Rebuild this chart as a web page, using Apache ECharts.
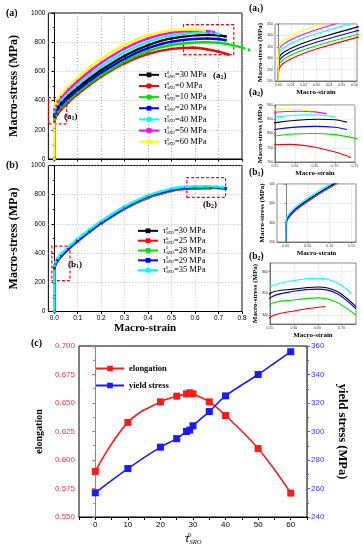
<!DOCTYPE html>
<html><head><meta charset="utf-8">
<script src="https://cdn.jsdelivr.net/npm/echarts@6/dist/echarts.min.js"></script>
<style>html,body{margin:0;padding:0;background:#fff}#c{width:363px;height:550px}</style>
</head><body><div id="c"></div>
<script>
// ---------- DATA ----------
// panel (a): tau0_SRO values (legend order) and colours
const tauA = ['30','0','10','20','40','50','60'];
const colorsA = ['#000000','#ff0000','#00e000','#0000ff','#00ffff','#ff00ff','#ffff00'];
// stress-strain curves [strain, stress MPa]
const stressA30 = [[0,0],[0,100],[0,200],[0.001,304],[0.005,328],[0.015,356],[0.03,385],[0.06,433],[0.1,488],[0.15,551],[0.2,609],[0.3,707],[0.4,780],[0.5,826],[0.658,850],[0.7,848],[0.73,840]];
const stressA0  = [[0,0],[0,100],[0,200],[0.001,257],[0.005,281],[0.015,310],[0.03,340],[0.06,388],[0.1,444],[0.15,507],[0.2,564],[0.3,656],[0.4,720],[0.5,754],[0.59,762],[0.65,752],[0.7,735],[0.74,716]];
const stressA10 = [[0,0],[0,100],[0,200],[0.001,274],[0.005,298],[0.015,326],[0.03,355],[0.06,401],[0.1,456],[0.15,518],[0.2,574],[0.3,669],[0.4,739],[0.5,781],[0.64,800],[0.7,796],[0.76,780],[0.83,748]];
const stressA20 = [[0,0],[0,100],[0,200],[0.001,289],[0.005,313],[0.015,341],[0.03,370],[0.06,417],[0.1,472],[0.15,534],[0.2,591],[0.3,687],[0.4,759],[0.5,803],[0.651,825],[0.7,822],[0.73,814]];
const stressA40 = [[0,0],[0,100],[0,200],[0.001,325],[0.005,349],[0.015,378],[0.03,407],[0.06,456],[0.1,512],[0.15,576],[0.2,634],[0.3,732],[0.4,804],[0.5,847],[0.639,866],[0.67,864],[0.7,858]];
const stressA50 = [[0,0],[0,100],[0,200],[0.001,340],[0.005,365],[0.015,394],[0.03,425],[0.06,475],[0.1,533],[0.15,599],[0.2,659],[0.3,757],[0.4,826],[0.5,866],[0.61,878],[0.65,876],[0.68,869]];
const stressA60 = [[0,0],[0,100],[0,200],[0.001,356],[0.005,381],[0.015,411],[0.03,443],[0.06,496],[0.1,557],[0.15,625],[0.2,686],[0.3,783],[0.4,849],[0.5,881],[0.571,886],[0.61,884],[0.64,879]];
const curvesA = [stressA30, stressA0, stressA10, stressA20, stressA40, stressA50, stressA60];

// panel (b)
const tauB = ['30','25','28','29','35'];
const colorsB = ['#000000','#ff0000','#00e000','#0000ff','#00ffff'];
const stressB30 = [[0,0],[0,100],[0,200],[0.001,304],[0.005,328],[0.015,356],[0.03,386],[0.06,433],[0.1,489],[0.15,552],[0.2,611],[0.3,712],[0.4,790],[0.5,835],[0.55,850],[0.6,852],[0.65,853],[0.69,851],[0.73,844]];
const stressB25 = [[0,0],[0,100],[0,200],[0.001,295],[0.005,319],[0.015,347],[0.03,377],[0.06,424],[0.1,480],[0.15,544],[0.2,602],[0.3,702],[0.4,778],[0.5,826],[0.55,839],[0.6,842],[0.665,844]];
const stressB28 = [[0,0],[0,100],[0,200],[0.001,300],[0.005,324],[0.015,352],[0.03,382],[0.06,429],[0.1,485],[0.15,548],[0.2,606],[0.3,705],[0.4,783],[0.5,830],[0.55,845],[0.6,847],[0.65,848],[0.69,846],[0.73,840]];
const stressB29 = [[0,0],[0,100],[0,200],[0.001,301],[0.005,325],[0.015,353],[0.03,383],[0.06,431],[0.1,487],[0.15,550],[0.2,609],[0.3,710],[0.4,788],[0.5,833],[0.55,848],[0.6,851],[0.65,852],[0.69,850],[0.73,843]];
const stressB35 = [[0,0],[0,100],[0,200],[0.001,314],[0.005,338],[0.015,366],[0.03,396],[0.06,443],[0.1,499],[0.15,562],[0.2,620],[0.3,720],[0.4,796],[0.5,842],[0.55,853],[0.6,856],[0.65,857],[0.69,855],[0.72,850]];
const curvesB = [stressB30, stressB25, stressB28, stressB29, stressB35];

// panel (c)
const tauC = [0,10,20,25,28,29,30,35,40,50,60];
const elongation = [0.590,0.633,0.651,0.656,0.658,0.659,0.658,0.651,0.639,0.610,0.571];
const yieldStress = [257,274,289,295,300,301,304,314,325,340,356];

// tick values
const xTicksMain = [0,0.1,0.2,0.3,0.4,0.5,0.6,0.7,0.8];
const xTicksA1 = [0,0.01,0.02,0.03,0.04,0.05,0.06];
const xTicksA2 = [0.55,0.6,0.65,0.7,0.75];
const xTicksB1 = [0,0.05,0.1,0.15];
const xTicksB2 = [0.55,0.6,0.65,0.7];
const yTicksB2 = [840,850,860];

// zoom boxes [[strain1,stress1],[strain2,stress2]]
const boxA1 = [[-0.024,240],[0.053,420]];
const boxA2 = [[0.551,715],[0.765,920]];
const boxB1 = [[-0.01,212],[0.067,448]];
const boxB2 = [[0.565,781],[0.73,917]];

// ---------- CHART ----------
const SERIF = '"Liberation Serif", "Times New Roman", serif';
const SANS = '"Liberation Sans", Arial, sans-serif';
const chart = echarts.init(document.getElementById('c'), null, {renderer:'canvas'});

const tauRich = (fs) => ({
  t:{fontFamily:SERIF, fontStyle:'italic', fontSize:fs, color:'#000'},
  sup:{fontFamily:SERIF, fontSize:fs*0.55, width:0.1, padding:[0,0,fs*0.55,0], color:'#000'},
  sub:{fontFamily:SERIF, fontStyle:'italic', fontSize:fs*0.5, padding:[fs*0.45,0,0,0], color:'#000'},
  n:{fontFamily:SERIF, fontSize:fs, color:'#000'}
});
const legendFmt = name => '{t|τ}{sup|0}{sub|SRO}{n|=' + name.slice(1) + ' MPa}';

const mainGrid = (top) => ({left:43, top:top, width:199, height:146, show:true, borderColor:'#000', borderWidth:1, backgroundColor:'transparent'});
const insetGrid = (l,t,w,h) => ({left:l, top:t, width:w, height:h, show:true, borderColor:'#333', borderWidth:0.6, backgroundColor:'transparent'});

const dotted = {show:true, lineStyle:{color:'#aaa', type:[1,2], width:0.8}};
const insetSplit = {show:true, lineStyle:{color:'#ddd', width:0.5}};

function mainX(gi, showLabel){
  return {gridIndex:gi, type:'value', min:-0.025, max:0.8,
    axisLine:{lineStyle:{color:'#000', width:1}},
    axisTick:{show:true, length:2.5, customValues:xTicksMain, lineStyle:{color:'#000'}},
    axisLabel:{show:showLabel, customValues:xTicksMain, fontSize:6.5, fontFamily:SANS, color:'#000', margin:3, formatter:v=>v.toFixed(1)},
    splitLine:dotted,
    name: showLabel ? 'Macro-strain' : '', nameLocation:'middle', nameGap:10,
    nameTextStyle:{fontFamily:SERIF, fontWeight:'bold', fontSize:11, color:'#000'}};
}
function mainY(gi){
  return {gridIndex:gi, type:'value', min:0, max:1000, interval:200,
    axisLine:{show:true, lineStyle:{color:'#000', width:1}},
    axisTick:{show:true, length:2.5, lineStyle:{color:'#000'}},
    minorTick:{show:true, splitNumber:2, length:1.5, lineStyle:{color:'#000'}},
    axisLabel:{fontSize:6.5, fontFamily:SANS, color:'#000', margin:3, formatter:v=>String(v)},
    splitLine:dotted,
    name:'Macro-stress (MPa)', nameLocation:'middle', nameGap:18,
    nameTextStyle:{fontFamily:SERIF, fontWeight:'bold', fontSize:12, color:'#000'}};
}
function insetX(gi, min, max, ticks, dec){
  return {gridIndex:gi, type:'value', min:min, max:max,
    axisLine:{lineStyle:{color:'#333', width:0.6}},
    axisTick:{show:true, length:1.5, customValues:ticks, lineStyle:{color:'#333', width:0.5}},
    axisLabel:{customValues:ticks, fontSize:3.5, fontFamily:SANS, color:'#333', margin:2, formatter:v=>v.toFixed(dec)},
    splitLine:insetSplit,
    name:'Macro-strain', nameLocation:'middle', nameGap:8,
    nameTextStyle:{fontFamily:SERIF, fontWeight:'bold', fontSize:7, color:'#000'}};
}
function insetY(gi, min, max, interval, ticks){
  const o = {gridIndex:gi, type:'value', min:min, max:max,
    axisLine:{show:true, lineStyle:{color:'#333', width:0.6}},
    axisTick:{show:true, length:1.5, lineStyle:{color:'#333', width:0.5}},
    axisLabel:{fontSize:3.5, fontFamily:SANS, color:'#333', margin:2, formatter:v=>String(v)},
    splitLine:insetSplit,
    name:'Macro-stress (MPa)', nameLocation:'middle', nameGap:8,
    nameTextStyle:{fontFamily:SERIF, fontWeight:'bold', fontSize:7, color:'#000'}};
  if (interval) o.interval = interval;
  if (ticks){ o.axisTick.customValues = ticks; o.axisLabel.customValues = ticks; }
  return o;
}

const xAxis = [
  mainX(0,false), mainX(1,true),
  insetX(2,-0.0025,0.062,xTicksA1,2),
  insetX(3,0.55,0.75,xTicksA2,2),
  insetX(4,-0.02,0.16,xTicksB1,2),
  insetX(5,0.55,0.73,xTicksB2,2),
  {gridIndex:6, type:'value', min:-5, max:65, interval:5,
    axisLine:{lineStyle:{color:'#000', width:1}},
    axisTick:{show:true, length:3, lineStyle:{color:'#000'}},
    axisLabel:{fontSize:8, fontFamily:SANS, color:'#000', margin:4,
      formatter:v => (v%10===0 && v>=0 && v<=60) ? String(v) : ''},
    splitLine:{show:false},
    name:'{t|τ}{sup|0}{sub|SRO}', nameLocation:'middle', nameGap:15,
    nameTextStyle:{rich:tauRich(13)}}
];
const yAxis = [
  mainY(0), mainY(1),
  insetY(2,200,450,50), insetY(3,700,900,50), insetY(4,200,500,100), insetY(5,836,864,null,yTicksB2),
  {gridIndex:6, type:'value', min:0.55, max:0.70, interval:0.025, position:'left',
    axisLine:{show:true, lineStyle:{color:'#ff5555', width:1}},
    axisTick:{show:true, length:3, lineStyle:{color:'#ff5555'}},
    minorTick:{show:true, splitNumber:2, length:2, lineStyle:{color:'#ff5555'}},
    axisLabel:{fontSize:8, fontFamily:SANS, color:'#ff3333', margin:4, formatter:v=>v.toFixed(3)},
    splitLine:{show:false},
    name:'elongation', nameLocation:'middle', nameGap:30,
    nameTextStyle:{fontFamily:SERIF, fontWeight:'bold', fontSize:10, color:'#000'}},
  {gridIndex:6, type:'value', min:240, max:360, interval:20, position:'right',
    axisLine:{show:true, lineStyle:{color:'#5555ff', width:1}},
    axisTick:{show:true, length:3, lineStyle:{color:'#5555ff'}},
    minorTick:{show:true, splitNumber:2, length:2, lineStyle:{color:'#5555ff'}},
    axisLabel:{fontSize:8, fontFamily:SANS, color:'#3333ff', margin:4},
    splitLine:{show:false},
    name:'yield stress (MPa)', nameLocation:'middle', nameGap:22, nameRotate:-90,
    nameTextStyle:{fontFamily:SERIF, fontWeight:'bold', fontSize:12.5, color:'#000'}}
];

const series = [];
const boxStyle = {color:'rgba(0,0,0,0)', borderColor:'#ff0000', borderWidth:1.2, borderType:[3,2]};
function mainSeries(name, data, color, gi, extra){
  return Object.assign({type:'line', name:name, data:data, xAxisIndex:gi, yAxisIndex:gi,
    smooth:0.3, symbol:'rect', symbolSize:2.5, showSymbol:true,
    lineStyle:{width:2.4, color:color}, itemStyle:{color:color}, emphasis:{disabled:true}}, extra||{});
}
function insetSeries(name, data, color, gi){
  return {type:'line', name:name, data:data, xAxisIndex:gi, yAxisIndex:gi,
    smooth:0.3, showSymbol:false, lineStyle:{width:1.1, color:color}, itemStyle:{color:color}, emphasis:{disabled:true}};
}
tauA.forEach((t,i) => {
  const extra = {};
  if (t === '10') extra.clip = false;
  if (i === 0) extra.markArea = {silent:true, itemStyle:boxStyle,
    data:[[{coord:boxA1[0]},{coord:boxA1[1]}],[{coord:boxA2[0]},{coord:boxA2[1]}]]};
  series.push(mainSeries('a'+t, curvesA[i], colorsA[i], 0, extra));
  series.push(insetSeries('a1_'+t, curvesA[i], colorsA[i], 2));
  series.push(insetSeries('a2_'+t, curvesA[i], colorsA[i], 3));
});
tauB.forEach((t,i) => {
  const extra = {};
  if (i === 0) extra.markArea = {silent:true, itemStyle:boxStyle,
    data:[[{coord:boxB1[0]},{coord:boxB1[1]}],[{coord:boxB2[0]},{coord:boxB2[1]}]]};
  series.push(mainSeries('b'+t, curvesB[i], colorsB[i], 1, extra));
  series.push(insetSeries('b1_'+t, curvesB[i], colorsB[i], 4));
  series.push(insetSeries('b2_'+t, curvesB[i], colorsB[i], 5));
});
series.push({type:'line', name:'elongation', xAxisIndex:6, yAxisIndex:6,
  data:tauC.map((t,i)=>[t,elongation[i]]), smooth:0.4, symbol:'rect', symbolSize:7,
  lineStyle:{color:'#ff1a1a', width:1.6}, itemStyle:{color:'#ff1a1a'}, emphasis:{disabled:true}});
series.push({type:'line', name:'yield stress', xAxisIndex:6, yAxisIndex:7,
  data:tauC.map((t,i)=>[t,yieldStress[i]]), smooth:0.4, symbol:'rect', symbolSize:7,
  lineStyle:{color:'#1a1aff', width:1.6}, itemStyle:{color:'#1a1aff'}, emphasis:{disabled:true}});

function lab(letter, sub, x, y, fs){
  const txt = sub ? '{p|(' + letter + '}{s|' + sub + '}{p|)}' : '{p|(' + letter + ')}';
  return {type:'text', left:x, top:y, silent:true, style:{text:txt,
    rich:{p:{fontFamily:SERIF, fontWeight:'bold', fontSize:fs, fill:'#000', color:'#000'},
          s:{fontFamily:SERIF, fontWeight:'bold', fontSize:fs*0.65, padding:[fs*0.4,0,0,0], fill:'#000', color:'#000'}}}};
}

const option = {
  animation:false,
  grid:[mainGrid(13), mainGrid(165.5),
        insetGrid(275,24,82,57), insetGrid(275,105,80,57),
        insetGrid(277,184,79,58), insetGrid(270,263,86,61),
        {left:79, top:346, width:228, height:171, show:true, borderColor:'#000', borderWidth:1, backgroundColor:'transparent'}],
  xAxis:xAxis, yAxis:yAxis, series:series,
  legend:[
    {data:tauA.map(t=>'a'+t), left:133, top:65, orient:'vertical', itemWidth:20, itemHeight:6, itemGap:1.8,
     selectedMode:false, formatter:legendFmt, textStyle:{rich:tauRich(8.5)}},
    {data:tauB.map(t=>'b'+t), left:132, top:221, orient:'vertical', itemWidth:20, itemHeight:6, itemGap:0.5,
     selectedMode:false, formatter:legendFmt, textStyle:{rich:tauRich(8.5)}},
    {data:['elongation','yield stress'], left:90, top:359, orient:'vertical', itemWidth:28, itemHeight:7, itemGap:8,
     selectedMode:false, textStyle:{fontFamily:SERIF, fontWeight:'bold', fontSize:8.5, color:'#000'}}
  ],
  graphic:[
    lab('a','',6,8,10), lab('b','',6,160,10), lab('c','',31,338,10),
    lab('a','1',249,4,9.5), lab('a','2',249,88,9.5), lab('b','1',249,168,9.5), lab('b','2',249,252,9.5),
    lab('a','1',64,112,9), lab('a','2',213,71,9), lab('b','1',68,260,9), lab('b','2',203,200,9)
  ]
};
chart.setOption(option);
</script></body></html>
